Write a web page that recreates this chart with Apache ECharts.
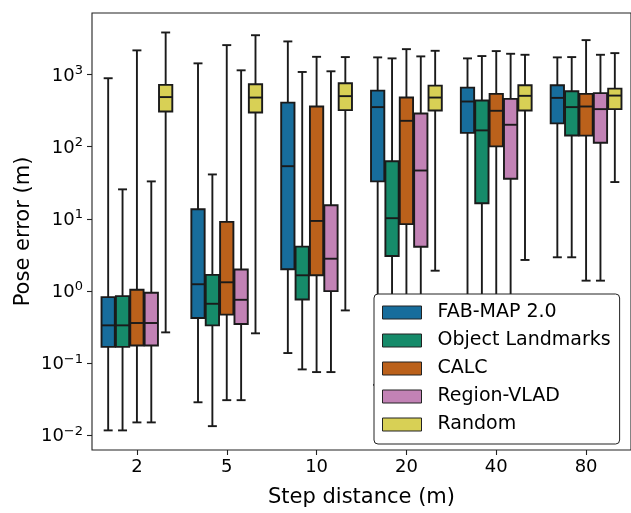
<!DOCTYPE html>
<html>
<head>
<meta charset="utf-8">
<script src="https://cdn.jsdelivr.net/npm/echarts@6/dist/echarts.min.js"></script>
<style>html,body{margin:0;padding:0;background:#fff}#c{width:631px;height:513px}</style>
</head>
<body>
<div id="c"></div>
<script>
// Categories (step distance, m)
const categories = ['2', '5', '10', '20', '40', '80'];
// Series: per category [whiskerLow, Q1, median, Q3, whiskerHigh]
const seriesNames = ['FAB-MAP 2.0', 'Object Landmarks', 'CALC', 'Region-VLAD', 'Random'];
const fabmap = [
  [0.0117, 0.168, 0.334, 0.822, 887],
  [0.0287, 0.422, 1.24, 13.6, 1426],
  [0.138, 2.0, 53.6, 408, 2871],
  [0.05, 33, 353, 598, 1726],
  [0.1, 155, 422, 658, 1671],
  [2.93, 210, 474, 709, 1726]
];
const objectLandmarks = [
  [0.0117, 0.168, 0.334, 0.85, 25.6],
  [0.0134, 0.334, 0.665, 1.67, 41.2],
  [0.0819, 0.762, 1.65, 4.12, 1083],
  [0.03, 3.05, 10.2, 62.8, 1671],
  [0.06, 16.4, 168, 436, 1800],
  [2.93, 143, 353, 586, 1742]
];
const calc = [
  [0.0151, 0.176, 0.36, 1.04, 2158],
  [0.0307, 0.47, 1.32, 9.06, 2552],
  [0.0752, 1.65, 9.35, 360, 1757],
  [0.04, 8.43, 228, 479, 2244],
  [0.08, 101, 314, 538, 2109],
  [1.39, 142, 360, 538, 2993]
];
const regionVlad = [
  [0.0151, 0.176, 0.36, 0.943, 33],
  [0.0307, 0.348, 0.755, 1.98, 1142],
  [0.0752, 0.997, 2.8, 15.4, 1107],
  [0.04, 4.1, 46.7, 288, 1781],
  [0.08, 35.9, 201, 459, 1936],
  [1.39, 113, 331, 551, 1875]
];
const randomBaseline = [
  [0.267, 307, 486, 717, 3819],
  [0.259, 297, 479, 733, 3499],
  [0.538, 321, 501, 756, 1742],
  [1.91, 317, 479, 701, 2129],
  [2.69, 317, 506, 709, 1875],
  [32.3, 331, 510, 637, 1977]
];
const yTickValues = [0.01, 0.1, 1, 10, 100, 1000];

const allData = [fabmap, objectLandmarks, calc, regionVlad, randomBaseline];
const colors = ['#176d9c', '#168b6a', '#bb611b', '#c282b5', '#d8d055'];
const lineColor = '#1a1a1a';

function makeRender(idx, color) {
  return function (params, api) {
    const cat = api.value(0);
    const vMed = api.value(3);
    const p0 = api.coord([0, vMed]);
    const p1 = api.coord([1, vMed]);
    const band = p1[0] - p0[0];
    const cx = api.coord([cat, vMed])[0] + (idx - 2) * 0.16 * band;
    const bw = 0.148 * band;
    const cw = 0.1 * band;
    const y = [1, 2, 3, 4, 5].map(function (d) { return api.coord([cat, api.value(d)])[1]; });
    const ls = { stroke: lineColor, lineWidth: 1.9 };
    return {
      type: 'group',
      children: [
        { type: 'line', shape: { x1: cx, y1: y[0], x2: cx, y2: y[1] }, style: ls },
        { type: 'line', shape: { x1: cx, y1: y[3], x2: cx, y2: y[4] }, style: ls },
        { type: 'line', shape: { x1: cx - cw / 2, y1: y[0], x2: cx + cw / 2, y2: y[0] }, style: ls },
        { type: 'line', shape: { x1: cx - cw / 2, y1: y[4], x2: cx + cw / 2, y2: y[4] }, style: ls },
        { type: 'rect', shape: { x: cx - bw / 2, y: y[3], width: bw, height: y[1] - y[3] },
          style: { fill: color, stroke: lineColor, lineWidth: 1.9 } },
        { type: 'line', shape: { x1: cx - bw / 2, y1: y[2], x2: cx + bw / 2, y2: y[2] }, style: ls }
      ]
    };
  };
}

const series = seriesNames.map(function (name, i) {
  return {
    name: name,
    type: 'custom',
    itemStyle: { color: colors[i] },
    encode: { x: 0, y: [1, 2, 3, 4, 5] },
    renderItem: makeRender(i, colors[i]),
    data: allData[i].map(function (d, c) { return [c].concat(d); }),
    clip: false,
    z: 2
  };
});

function fmtExp(v) {
  const e = Math.round(Math.log10(v));
  const s = String(e).replace('-', '−');
  return '{b|10}{s|' + s + '}';
}

const chart = echarts.init(document.getElementById('c'), null, { renderer: 'canvas' });
chart.setOption({
  animation: false,
  backgroundColor: '#fff',
  textStyle: { fontFamily: 'DejaVu Sans', color: '#000' },
  grid: { left: 92, right: -2, top: 13, bottom: 61, show: true, borderColor: '#222', borderWidth: 1.1, backgroundColor: 'transparent' },
  legend: {
    orient: 'vertical',
    left: 374, top: 294,
    padding: [9, 9, 10, 8],
    itemWidth: 39, itemHeight: 13, itemGap: 9,
    icon: 'rect',
    itemStyle: { borderColor: '#222', borderWidth: 1 },
    backgroundColor: '#fff',
    borderColor: '#222', borderWidth: 1, borderRadius: 4,
    textStyle: { fontFamily: 'DejaVu Sans', fontSize: 19, color: '#000', lineHeight: 19, padding: [0, 0, 0, 11] },
    data: seriesNames,
    z: 10
  },
  xAxis: {
    type: 'category',
    data: categories,
    name: 'Step distance (m)',
    nameLocation: 'middle',
    nameGap: 37,
    nameMoveOverlap: false,
    nameTextStyle: { fontFamily: 'DejaVu Sans', fontSize: 21, color: '#000', verticalAlign: 'top' },
    axisLine: { show: false },
    axisTick: { show: true, alignWithLabel: true, length: 5, lineStyle: { color: '#222', width: 1.1 } },
    axisLabel: { fontFamily: 'DejaVu Sans', fontSize: 18, color: '#000', margin: 8 },
    splitLine: { show: false }
  },
  yAxis: {
    type: 'log',
    logBase: 10,
    min: 0.00626,
    max: 7110,
    name: 'Pose error (m)',
    nameLocation: 'middle',
    nameGap: 58,
    nameMoveOverlap: false,
    nameTextStyle: { fontFamily: 'DejaVu Sans', fontSize: 21, color: '#000' },
    axisLine: { show: false },
    axisTick: { show: true, length: 5, customValues: yTickValues, lineStyle: { color: '#222', width: 1.1 } },
    axisLabel: {
      customValues: yTickValues,
      margin: 9,
      formatter: fmtExp,
      rich: {
        b: { fontFamily: 'DejaVu Sans', fontSize: 18, color: '#000', lineHeight: 21, verticalAlign: 'bottom' },
        s: { fontFamily: 'DejaVu Sans', fontSize: 13, color: '#000', lineHeight: 13, verticalAlign: 'top' }
      }
    },
    splitLine: { show: false },
    minorTick: { show: false }
  },
  series: series
});
</script>
</body>
</html>
